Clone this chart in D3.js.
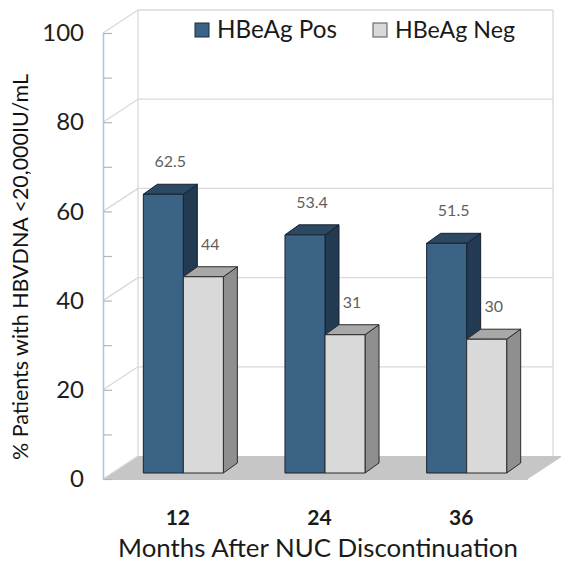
<!DOCTYPE html>
<html>
<head>
<meta charset="utf-8">
<script src="https://cdn.jsdelivr.net/npm/d3@7/dist/d3.min.js"></script>
<style>
  html, body { margin: 0; padding: 0; background: #ffffff; }
  svg { display: block; }
  text { font-family: Lato, "Open Sans", "Liberation Sans", sans-serif; }
</style>
</head>
<body>
<svg id="chart" width="561" height="563"></svg>
<script>
// Share of patients with HBV DNA below 20,000 IU/mL after stopping NUC therapy
const months = ["12", "24", "36"];
const seriesNames = ["HBeAg Pos", "HBeAg Neg"];
const hbeagPos = [62.5, 53.4, 51.5];
const hbeagNeg = [44, 31, 30];
const yTicks = [0, 20, 40, 60, 80, 100];
const yMinorTicks = [10, 30, 50, 70, 90];
const xTitle = "Months After NUC Discontinuation";
const yTitle = "% Patients with HBVDNA <20,000IU/mL";

const seriesValues = { "HBeAg Pos": hbeagPos, "HBeAg Neg": hbeagNeg };
const faces = {
  "HBeAg Pos": { front: "#3a6385", top: "#2c4964", side: "#223a52", stroke: "#16222e" },
  "HBeAg Neg": { front: "#d9d9d9", top: "#a8a8a8", side: "#8f8f8f", stroke: "#2a2a2a" }
};

const svg = d3.select("#chart");

// front plane of the 3-D box
const boxLeft = 103, boxRight = 528, boxBottom = 479, boxTop = 33;
// offset from the front plane to the back wall
const wall = { dx: 35, dy: -23 };
// bars stand a little behind the front plane and have their own depth
const barFront = { dx: 9.5, dy: -6 };
const barDepth = { dx: 14, dy: -10 };

const y = d3.scaleLinear().domain([0, 100]).range([boxBottom, boxTop]);
const x = d3.scaleBand().domain(months).range([boxLeft, boxRight])
  .paddingInner(0.435).paddingOuter(0.2175);
const xs = d3.scaleBand().domain(seriesNames).range([0, x.bandwidth()]);

const poly = pts => "M" + pts.map(p => p.join(",")).join("L") + "Z";

// floor
svg.append("path")
  .attr("d", poly([[boxLeft, y(0)], [boxRight, y(0)], [boxRight + wall.dx, y(0) + wall.dy], [boxLeft + wall.dx, y(0) + wall.dy]]))
  .attr("fill", "#c6c6c6");

// back wall gridlines and frame
const wallG = svg.append("g").attr("fill", "none").attr("stroke", "#d9d9d9").attr("stroke-width", 1.3);
yTicks.filter(t => t > 0).forEach(t => {
  wallG.append("line")
    .attr("x1", boxLeft + wall.dx).attr("x2", boxRight + wall.dx - 10)
    .attr("y1", y(t) + wall.dy).attr("y2", y(t) + wall.dy);
});
wallG.append("line")
  .attr("x1", boxLeft + wall.dx).attr("x2", boxLeft + wall.dx)
  .attr("y1", y(100) + wall.dy).attr("y2", y(0) + wall.dy);
wallG.append("line")
  .attr("x1", boxRight + wall.dx - 10).attr("x2", boxRight + wall.dx - 10)
  .attr("y1", y(100) + wall.dy).attr("y2", y(0) + wall.dy);

// side wall gridlines running back from the value axis
yTicks.forEach(t => {
  wallG.append("line")
    .attr("x1", boxLeft).attr("y1", y(t))
    .attr("x2", boxLeft + wall.dx).attr("y2", y(t) + wall.dy);
});

// front edge of the floor
svg.append("line")
  .attr("x1", boxLeft).attr("x2", boxRight)
  .attr("y1", y(0) + 0.5).attr("y2", y(0) + 0.5)
  .attr("stroke", "#b7c9d8").attr("stroke-width", 1);

// value axis
const yAxis = d3.axisLeft(y)
  .tickValues(yTicks.concat(yMinorTicks))
  .tickSize(-9).tickSizeOuter(0).tickPadding(19)
  .tickFormat(d => yTicks.includes(d) ? d : "");
const yAxisG = svg.append("g").attr("transform", `translate(${boxLeft},0)`).call(yAxis);
yAxisG.select(".domain").attr("stroke", "#a9c8df").attr("stroke-width", 1.5);
yAxisG.selectAll(".tick line").attr("stroke", "#a9b9c6").attr("stroke-width", 1.2);
yAxisG.selectAll(".tick text")
  .attr("font-size", 24).attr("fill", "#1e1e1e")
  .style("font-family", "Lato, 'Open Sans', sans-serif");

// 3-D bars
const barsG = svg.append("g");
months.forEach((m, i) => {
  seriesNames.forEach(s => {
    const v = seriesValues[s][i];
    const c = faces[s];
    const x0 = x(m) + xs(s) + barFront.dx;
    const x1 = x0 + xs.bandwidth();
    const yT = y(v) + barFront.dy;
    const yB = y(0) + barFront.dy;
    const g = barsG.append("g").attr("stroke", c.stroke).attr("stroke-width", 1).attr("stroke-linejoin", "round");
    g.append("path").attr("fill", c.side)
      .attr("d", poly([[x1, yT], [x1 + barDepth.dx, yT + barDepth.dy], [x1 + barDepth.dx, yB + barDepth.dy], [x1, yB]]));
    g.append("path").attr("fill", c.top)
      .attr("d", poly([[x0, yT], [x0 + barDepth.dx, yT + barDepth.dy], [x1 + barDepth.dx, yT + barDepth.dy], [x1, yT]]));
    g.append("path").attr("fill", c.front)
      .attr("d", poly([[x0, yT], [x1, yT], [x1, yB], [x0, yB]]));
  });
});

// value labels above each bar
const labelG = svg.append("g");
months.forEach((m, i) => {
  seriesNames.forEach(s => {
    const v = seriesValues[s][i];
    labelG.append("text")
      .attr("x", x(m) + xs(s) + barFront.dx + xs.bandwidth() / 2 + barDepth.dx / 2)
      .attr("y", y(v) + barFront.dy - 27)
      .attr("text-anchor", "middle")
      .attr("font-size", 16)
      .attr("fill", "#5f5f5f")
      .text(v);
  });
});

// category labels
svg.append("g").selectAll("text").data(months).join("text")
  .attr("x", d => x(d) + x.bandwidth() / 2 + 4)
  .attr("y", 525)
  .attr("text-anchor", "middle")
  .attr("font-size", 21).attr("font-weight", "bold").attr("fill", "#1a1a1a")
  .text(d => d);

// fit a text element to a target width by scaling its font size
function fitWidth(sel, width) {
  const node = sel.node();
  const fs = parseFloat(sel.attr("font-size"));
  const w = node.getComputedTextLength();
  sel.attr("font-size", fs * width / w);
}

const xt = svg.append("text")
  .attr("x", 318).attr("y", 557)
  .attr("text-anchor", "middle")
  .attr("font-size", 22).attr("fill", "#1a1a1a")
  .text(xTitle);
fitWidth(xt, 400);

const yt = svg.append("text")
  .attr("transform", "translate(28,267) rotate(-90)")
  .attr("text-anchor", "middle")
  .attr("font-size", 18).attr("fill", "#111111")
  .text(yTitle);
fitWidth(yt, 386);

// legend
const legendX = [195, 373];
const legendG = svg.append("g");
seriesNames.forEach((s, i) => {
  legendG.append("rect")
    .attr("x", legendX[i]).attr("y", 23).attr("width", 14).attr("height", 14)
    .attr("fill", faces[s].front).attr("stroke", i === 0 ? "#1c2c3a" : "#555").attr("stroke-width", 1);
  const t = legendG.append("text")
    .attr("x", legendX[i] + 22).attr("y", 38)
    .attr("font-size", 22).attr("fill", "#1a1a1a")
    .text(s);
  fitWidth(t, 120);
});
</script>
</body>
</html>
